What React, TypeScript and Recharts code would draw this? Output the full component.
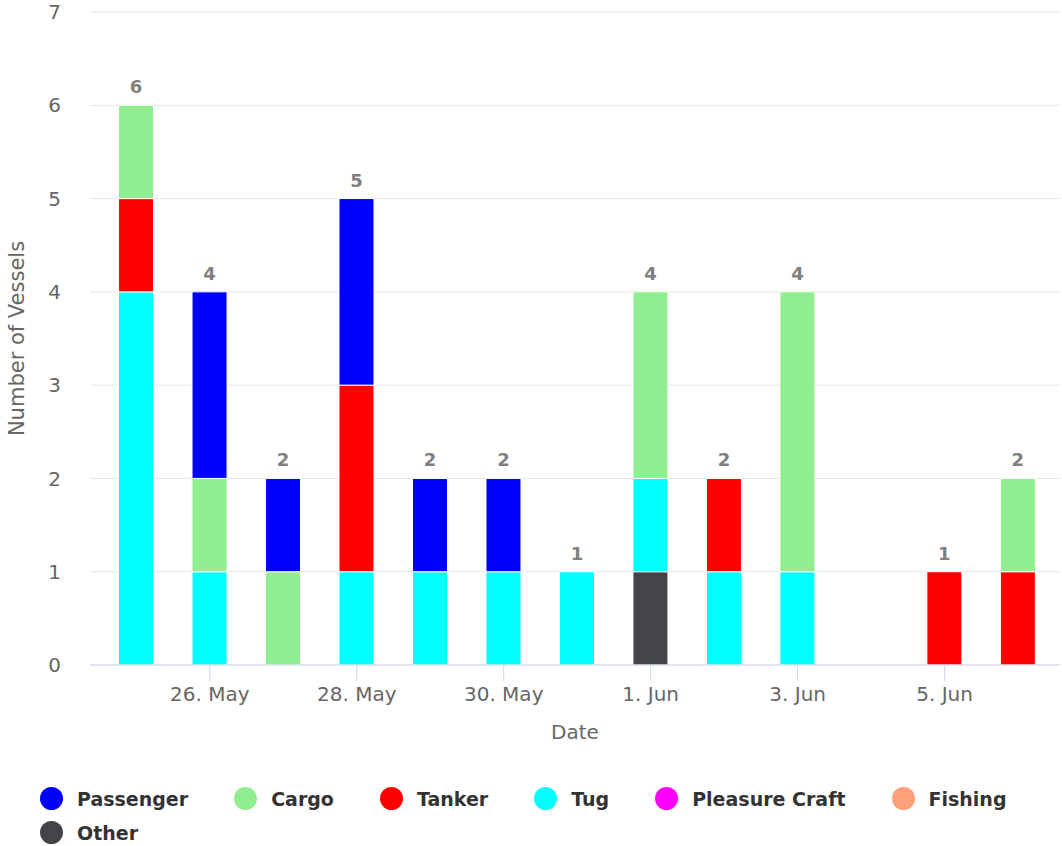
import { Bar, BarChart, CartesianGrid, LabelList, XAxis, YAxis } from "recharts";

const dates = [
  "25. May", "26. May", "27. May", "28. May", "29. May", "30. May", "31. May",
  "1. Jun", "2. Jun", "3. Jun", "4. Jun", "5. Jun", "6. Jun",
];
const passenger = [0, 2, 1, 2, 1, 1, 0, 0, 0, 0, 0, 0, 0];
const cargo = [1, 1, 1, 0, 0, 0, 0, 2, 0, 3, 0, 0, 1];
const tanker = [1, 0, 0, 2, 0, 0, 0, 0, 1, 0, 0, 1, 1];
const tug = [4, 1, 0, 1, 1, 1, 1, 1, 1, 1, 0, 0, 0];
const pleasureCraft = [0, 0, 0, 0, 0, 0, 0, 0, 0, 0, 0, 0, 0];
const fishing = [0, 0, 0, 0, 0, 0, 0, 0, 0, 0, 0, 0, 0];
const other = [0, 0, 0, 0, 0, 0, 0, 1, 0, 0, 0, 0, 0];
const xTicks = [1, 3, 5, 7, 9, 11];
const yTicks = [0, 1, 2, 3, 4, 5, 6, 7];

// legend order (top of stack first, like the original)
const series = [
  { key: "passenger", name: "Passenger", color: "#0000ff", values: passenger },
  { key: "cargo", name: "Cargo", color: "#90ee90", values: cargo },
  { key: "tanker", name: "Tanker", color: "#ff0000", values: tanker },
  { key: "tug", name: "Tug", color: "#00ffff", values: tug },
  { key: "pleasure", name: "Pleasure Craft", color: "#ff00ff", values: pleasureCraft },
  { key: "fishing", name: "Fishing", color: "#ffa07a", values: fishing },
  { key: "other", name: "Other", color: "#434348", values: other },
];

const totals = dates.map((_, i) => series.reduce((s, ser) => s + ser.values[i], 0));
// which series sits on top of each stack (gets the total label)
const topKey = dates.map((_, i) => series.find((s) => s.values[i] > 0)?.key ?? "");

const data = dates.map((d, i) => {
  const row: Record<string, number | string> = { day: i, date: d };
  series.forEach((s) => (row[s.key] = s.values[i]));
  return row;
});

const FONT = "'DejaVu Sans', sans-serif";

const StackTotal = (props: any) => {
  const { x, y, width, value } = props;
  if (!value) return null;
  return (
    <text
      x={x + width / 2}
      y={y - 12}
      textAnchor="middle"
      fill="#808080"
      fontWeight="bold"
      fontSize={18}
      fontFamily={FONT}
    >
      {value}
    </text>
  );
};

const Legend = () => (
  <div
    style={{
      position: "absolute",
      left: 40,
      top: 787,
      width: 1000,
      display: "flex",
      flexWrap: "wrap",
      columnGap: 46,
      rowGap: 11,
      fontFamily: FONT,
      fontWeight: "bold",
      fontSize: 19,
      color: "#333333",
    }}
  >
    {series.map((s) => (
      <div key={s.key} style={{ display: "flex", alignItems: "center", height: 23 }}>
        <span
          style={{
            width: 23,
            height: 23,
            borderRadius: "50%",
            background: s.color,
            marginRight: 14,
            display: "inline-block",
          }}
        />
        <span>{s.name}</span>
      </div>
    ))}
  </div>
);

const App = () => {
  const stackOrder = [...series].reverse();
  return (
    <div style={{ position: "absolute", left: 0, top: 0, width: 1062, height: 846, background: "#fff" }}>
      <BarChart
        width={1062}
        height={846}
        data={data}
        margin={{ top: 12, right: 2, bottom: 101, left: 0 }}
      >
        <CartesianGrid vertical={false} stroke="#e6e6e6" />
        <XAxis
          dataKey="day"
          type="number"
          domain={[-0.63, 12.57]}
          ticks={xTicks}
          tickFormatter={(v: number) => dates[v]}
          height={80}
          axisLine={{ stroke: "#ccd6eb" }}
          tickLine={{ stroke: "#ccd6eb" }}
          tickSize={16}
          tickMargin={6}
          tick={{ fill: "#666666", fontSize: 20, fontFamily: FONT }}
          label={{
            value: "Date",
            position: "insideBottom",
            offset: 6,
            fill: "#666666",
            fontSize: 20,
            fontFamily: FONT,
          }}
        />
        <YAxis
          width={90}
          domain={[0, 7]}
          ticks={yTicks}
          axisLine={false}
          tickLine={false}
          tickSize={0}
          tickMargin={29}
          tick={{ fill: "#666666", fontSize: 20, fontFamily: FONT }}
          label={{
            value: "Number of Vessels",
            angle: -90,
            position: "insideLeft",
            offset: 17,
            fill: "#666666",
            fontSize: 21,
            fontFamily: FONT,
            style: { textAnchor: "middle" },
          }}
        />
        {stackOrder.map((s) => (
          <Bar
            key={s.key}
            dataKey={s.key}
            name={s.name}
            stackId="a"
            fill={s.color}
            stroke="#ffffff"
            strokeWidth={1}
            barSize={35}
            isAnimationActive={false}
          >
            <LabelList
              valueAccessor={(entry: any) => {
                const i = entry?.payload?.day;
                return topKey[i] === s.key ? totals[i] : "";
              }}
              content={StackTotal}
            />
          </Bar>
        ))}
      </BarChart>
      <Legend />
    </div>
  );
};

export default App;
